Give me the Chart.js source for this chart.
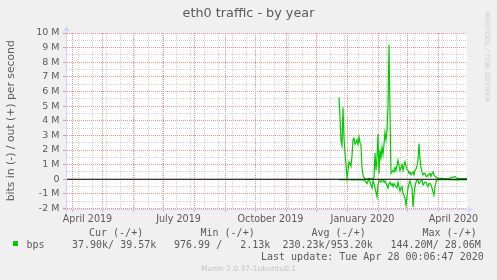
<!DOCTYPE html>
<html>
<head>
<meta charset="utf-8">
<script src="https://cdn.jsdelivr.net/npm/chart.js@4/dist/chart.umd.min.js"></script>
<style>
  html, body { margin: 0; padding: 0; background: #f0f0f0; }
  #wrap { position: relative; width: 497px; height: 280px; overflow: hidden; }
  canvas { position: absolute; left: 0; top: 0; }
  .t { position: absolute; white-space: pre; font-family: 'DejaVu Sans Mono', monospace; font-size: 10px; line-height: 12px; color: #5a5a5a; }
  #title { position: absolute; left: 0; width: 497px; top: 5px; text-align: center; font-family: 'DejaVu Sans', sans-serif; font-size: 12.8px; line-height: 16px; color: #5a5a5a; }
  #box { position: absolute; left: 13px; top: 241px; width: 5px; height: 5px; background: #00cc00; }
  #munin { position: absolute; left: 0; width: 497px; top: 264px; text-align: center; font-family: 'DejaVu Sans', sans-serif; font-size: 7.5px; line-height: 10px; color: #c4c4c4; }
  #rrd { position: absolute; left: 487px; top: 57px; transform: translate(-50%, -50%) rotate(90deg); white-space: nowrap; font-family: 'DejaVu Sans', sans-serif; font-size: 7px; line-height: 8px; color: #cdcdcd; }
</style>
</head>
<body>
<div id="wrap">
  <canvas id="c" width="497" height="280"></canvas>
  <div id="title">eth0 traffic - by year</div>
  <div id="rrd">RRDTOOL / TOBI OETIKER</div>
  <div class="t" style="left:89px;top:227px">Cur (-/+)</div>
  <div class="t" style="left:200.5px;top:227px">Min (-/+)</div>
  <div class="t" style="left:311.5px;top:227px">Avg (-/+)</div>
  <div class="t" style="left:422.5px;top:227px">Max (-/+)</div>
  <div id="box"></div>
  <div class="t" style="left:26.5px;top:239px">bps</div>
  <div class="t" style="left:72px;top:239px">37.90k/ 39.57k</div>
  <div class="t" style="left:174px;top:239px">976.99 /   2.13k</div>
  <div class="t" style="left:282.5px;top:239px">230.23k/953.20k</div>
  <div class="t" style="left:390.5px;top:239px">144.20M/ 28.06M</div>
  <div class="t" style="left:261px;top:251px">Last update: Tue Apr 28 00:06:47 2020</div>
  <div id="munin">Munin 2.0.37-1ubuntu0.1</div>
</div>
<script>
// ---- DATA (x = days since 2019-03-26 12:00 UTC, y = Mbit/s) ----
const START_DATE = Date.UTC(2019, 2, 26, 12);
const xMin = 0, xMax = 400;

const xTickLabels = ['April 2019', 'July 2019', 'October 2019', 'January 2020', 'April 2020'];
const xTickLabelDates = ['2019-04-16', '2019-07-16', '2019-10-16', '2020-01-16', '2020-04-16'];
const monthLineDates = ['2019-04-01','2019-05-01','2019-06-01','2019-07-01','2019-08-01','2019-09-01',
  '2019-10-01','2019-11-01','2019-12-01','2020-01-01','2020-02-01','2020-03-01','2020-04-01'];
const weekLineFirst = '2019-04-07';

const yTickValues = [-2,-1,0,1,2,3,4,5,6,7,8,9,10];

const outDays = [272,273,274,275,276,277,278,279,280,281,282,283,284,285,286,287,288,289,290,291,292,293,294,295,296,297,298,300,302,304,306,307,
  308,309,310,311,312,313,314,315,316,317,318,319,320,321,322,323,324,325,326,327,328,329,330,331,332,333,334,335,336,337,338,339,340,341,342,343,344,345,346,347,348,349,350,
  351,352,353,354,355,356,357,358,359,360,361,362,363,364,365,366,367,368,369,370,371,374,378,382,386,388,390,394,398,400];
const outVals = [5.6,4.2,2.6,2.3,4.9,2.8,1.8,1.0,0.1,0.6,1.2,1.1,0.9,1.6,2.7,2.8,2.4,2.5,2.7,2.4,2.9,2.5,2.3,0.8,0.3,0.1,0.05,0.0,0.08,0.02,0.05,0.1,
  1.8,0.6,1.5,3.1,0.4,2.0,1.5,2.2,1.7,2.4,3.2,2.7,3.3,5.0,9.2,4.5,0.4,0.5,0.6,0.5,0.8,0.6,1.0,1.3,0.9,0.6,0.8,1.0,0.6,0.9,1.2,0.9,0.7,0.6,0.4,0.5,0.3,0.4,0.5,0.3,0.6,0.7,0.9,
  1.3,2.45,1.4,0.8,0.5,0.3,0.4,0.4,0.2,0.2,0.3,0.3,0.4,0.2,0.4,0.5,0.3,0.2,0.15,0.1,0.05,0.06,0.04,0.07,0.15,0.18,0.06,0.05,0.05,0.05];

const inDays = [272,280,285,290,296,298,300,301,302,303,304,305,306,307,308,309,310,311,312,313,314,315,316,317,318,319,320,321,322,323,324,325,326,327,328,329,330,
  331,332,333,334,335,336,337,338,339,340,341,342,343,344,345,346,347,348,349,350,351,352,353,354,355,356,357,358,359,360,361,362,363,364,365,366,367,368,369,370,374,380,390,400];
const inVals = [-0.02,-0.03,-0.05,-0.02,-0.05,-0.1,-0.3,-0.1,-0.05,-0.2,-0.4,-0.6,-0.1,-0.3,-0.6,-0.9,-1.2,-0.4,-0.05,-0.1,-0.2,-0.1,-0.05,-0.2,-0.1,-0.3,-0.4,-0.6,-0.3,-0.2,-0.4,-0.3,-0.5,-0.3,-0.4,-0.5,-0.6,
  -0.2,-0.5,-0.8,-0.6,-0.5,-1.0,-1.1,-1.3,-1.8,-1.2,-0.6,-0.3,-0.1,-0.4,-0.6,-1.9,-1.0,-0.5,-0.2,-0.05,-0.1,-0.3,-0.2,-0.1,-0.05,-0.4,-0.3,-0.2,-0.2,-0.4,-0.5,-0.3,-0.3,-0.4,-0.6,-0.9,-1.1,-0.5,-0.2,-0.05,-0.03,-0.02,-0.04,-0.03];

// ---- helpers ----
const dayOf = s => (Date.parse(s + 'T00:00:00Z') - START_DATE) / 86400000;
const monthLines = monthLineDates.map(dayOf);
const weekLines = [];
for (let d = dayOf(weekLineFirst); d < xMax; d += 14) weekLines.push(d);
const labelPos = xTickLabelDates.map(dayOf);
const labelMap = new Map(labelPos.map((p, i) => [p, xTickLabels[i]]));
const monthSet = new Set(monthLines);
const weekSet = new Set(weekLines);

const RED = '#ef8f8f';
const GREY = '#d4d4d4';
const AXIS = '#cfd6f8';
const NONE = 'rgba(0,0,0,0)';

const decor = {
  id: 'decor',
  beforeDraw(chart) {
    const {ctx, chartArea: a} = chart;
    ctx.save();
    ctx.fillStyle = '#ffffff';
    ctx.fillRect(a.left, a.top, a.right - a.left, a.bottom - a.top);
    ctx.restore();
  },
  beforeDatasetsDraw(chart) {
    const {ctx, chartArea: a} = chart;
    ctx.save();
    ctx.strokeStyle = AXIS; ctx.fillStyle = AXIS; ctx.lineWidth = 1;
    const x0 = Math.round(a.left) - 0.5, y0 = Math.round(a.bottom) + 0.5;
    ctx.beginPath();
    ctx.moveTo(x0, y0 + 3); ctx.lineTo(x0, a.top - 3);
    ctx.moveTo(x0 - 3, y0); ctx.lineTo(a.right + 3, y0);
    ctx.stroke();
    ctx.beginPath();
    ctx.moveTo(x0 - 3, a.top - 2); ctx.lineTo(x0 + 3, a.top - 2); ctx.lineTo(x0, a.top - 7); ctx.closePath(); ctx.fill();
    ctx.beginPath();
    ctx.moveTo(a.right + 1, y0 - 3); ctx.lineTo(a.right + 1, y0 + 3); ctx.lineTo(a.right + 6, y0); ctx.closePath(); ctx.fill();
    ctx.restore();
  }
};

Chart.defaults.font.family = "'DejaVu Sans', sans-serif";
Chart.defaults.color = '#5a5a5a';

new Chart(document.getElementById('c'), {
  type: 'line',
  data: {
    datasets: [
      { label: 'zero', data: [{x: xMin, y: 0}, {x: xMax, y: 0}], borderColor: '#000000', borderWidth: 1, pointRadius: 0 },
      { label: 'bps in', data: inDays.map((d, i) => ({x: d, y: inVals[i]})), borderColor: '#00cc00', borderWidth: 1.2, pointRadius: 0, tension: 0 },
      { label: 'bps out', data: outDays.map((d, i) => ({x: d, y: outVals[i]})), borderColor: '#00cc00', borderWidth: 1.2, pointRadius: 0, tension: 0 }
    ]
  },
  options: {
    responsive: false,
    animation: false,
    events: [],
    layout: { padding: { top: 33, right: 30, bottom: 51.5, left: 0 } },
    plugins: {
      legend: { display: false },
      tooltip: { enabled: false },
      title: { display: false }
    },
    scales: {
      x: {
        type: 'linear', min: xMin, max: xMax,
        afterBuildTicks(scale) {
          const vals = [...new Set([...monthLines, ...weekLines, ...labelPos])].sort((a, b) => a - b);
          scale.ticks = vals.map(v => ({value: v}));
        },
        afterFit(scale) { scale.height = 20; },
        ticks: {
          autoSkip: false, maxRotation: 0, minRotation: 0, padding: 2,
          font: { size: 9.6 }, color: '#5a5a5a',
          callback: v => labelMap.get(v) || ''
        },
        grid: {
          drawTicks: true, tickLength: 3, lineWidth: 1,
          color: c => monthSet.has(c.tick.value) ? RED : (weekSet.has(c.tick.value) ? GREY : NONE),
          tickColor: c => monthSet.has(c.tick.value) ? RED : NONE
        },
        border: { display: false, dash: [1, 1] }
      },
      y: {
        type: 'linear', min: -2, max: 10,
        afterBuildTicks(scale) {
          const vals = [];
          yTickValues.forEach(v => { vals.push(v); if (v < 10) vals.push(v + 0.5); });
          scale.ticks = vals.map(v => ({value: v}));
        },
        afterFit(scale) { scale.width = 67; },
        ticks: {
          autoSkip: false, padding: 3.5, font: { size: 9.5 }, color: '#5a5a5a',
          callback: v => Number.isInteger(v) ? (v === 0 ? '0' : v + ' M') : ''
        },
        grid: {
          drawTicks: true, tickLength: 4, lineWidth: 1,
          color: c => Number.isInteger(c.tick.value) ? RED : GREY,
          tickColor: c => Number.isInteger(c.tick.value) ? RED : NONE
        },
        border: { display: false, dash: [1, 1] },
        title: {
          display: true, text: 'bits in (-) / out (+) per second', color: '#5a5a5a',
          font: { size: 10.8 }, padding: { top: 5, bottom: 0 }
        }
      }
    }
  },
  plugins: [decor]
});
</script>
</body>
</html>
